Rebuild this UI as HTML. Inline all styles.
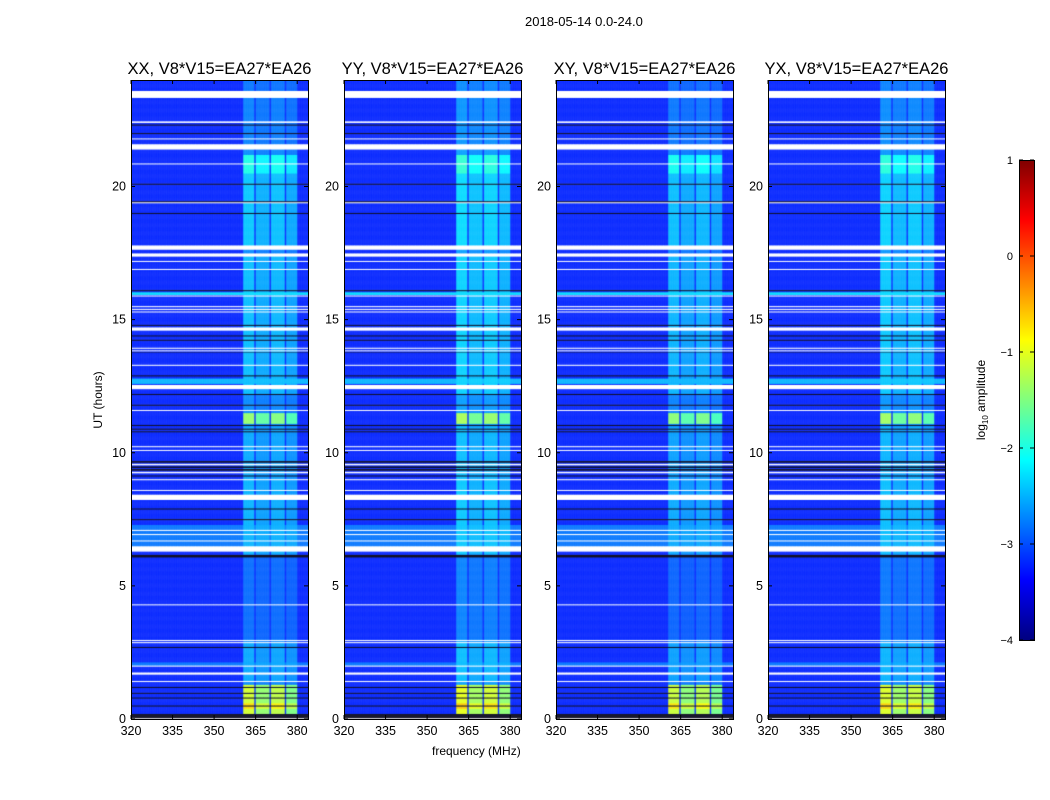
<!DOCTYPE html>
<html><head><meta charset="utf-8">
<style>
body{margin:0;background:#fff;}
#wrap{position:relative;width:1050px;height:800px;background:#fff;font-family:"Liberation Sans",sans-serif;color:#000;overflow:hidden}
.t{position:absolute;white-space:nowrap}
canvas{position:absolute}
</style></head><body>
<div id="wrap">
<div class="t" style="left:525px;top:14px;font-size:13px">2018-05-14 0.0-24.0</div>
<div class="t" style="left:432px;top:744px;font-size:12px">frequency (MHz)</div>
<div class="t" style="left:98px;top:400px;font-size:12px;transform:translate(-50%,-50%) rotate(-90deg);transform-origin:center">UT (hours)</div>
<div class="t" style="left:982px;top:400px;font-size:12px;transform:translate(-50%,-50%) rotate(-90deg)">log<sub style="font-size:8px">10</sub> amplitude</div>
<svg id="ov" width="1050" height="800" style="position:absolute;left:0;top:0"></svg>
</div>
<script>
// ---- data ----
const panelTitles=["XX, V8*V15=EA27*EA26","YY, V8*V15=EA27*EA26","XY, V8*V15=EA27*EA26","YX, V8*V15=EA27*EA26"];
const panelOffset=[0,0.1,-0.05,0.05];
const xTicks=[320,335,350,365,380];
const yTicks=[0,5,10,15,20];
const cbTicks=[1,0,-1,-2,-3,-4];
const bgLevel=-3.2;
const bandsF=[[360.5,364.5],[365,370],[370.5,375.5],[376,380]];
const bandStrength=[1,0.85,0.95,0.8];
// [start hr, end hr, band level]
const bandSegs=[[0,24,-2.7],[23.6,24,-2.8],[21.6,23.35,-2.75],[20.5,21.2,-2.0],[17.8,20.5,-2.4],[12.2,17.4,-2.45],
[11.1,11.5,-1.4],[9.0,11.0,-2.55],[6.2,9.0,-2.5],[3.0,6.1,-2.85],[1.4,2.9,-2.55],[0.2,1.3,-1.1],[0.4,0.6,-0.7]];
// [start, end, background level]
const bgSegs=[[15.95,16.05,-2.3],[12.6,12.8,-2.5],[6.5,7.3,-2.8],[2.0,2.15,-2.8]];
// flagged rows: w = blank (white), k = black
const flagSegs=[[23.35,23.6,'w'],[22.4,22.47,'w'],[22.3,22.35,'k'],[21.98,22.02,'k'],[21.78,21.82,'w'],[21.4,21.6,'w'],[20.84,20.88,'w'],
[20.08,20.12,'k'],[19.38,19.42,'w'],[19.43,19.46,'k'],[18.98,19.02,'k'],[17.65,17.8,'w'],[17.38,17.5,'w'],[17.18,17.22,'w'],[16.88,16.92,'w'],
[16.08,16.12,'k'],[15.88,15.92,'w'],[15.48,15.52,'w'],[15.38,15.42,'w'],[15.28,15.32,'w'],[14.78,14.82,'k'],[14.6,14.72,'w'],[14.38,14.42,'k'],
[14.23,14.27,'k'],[13.93,13.97,'w'],[13.83,13.87,'w'],[13.78,13.81,'k'],[13.28,13.32,'w'],[12.88,12.92,'k'],[12.4,12.56,'w'],[12.18,12.22,'k'],
[11.78,11.82,'k'],[11.58,11.62,'w'],[11.03,11.07,'k'],[10.88,10.92,'k'],[10.78,10.82,'k'],[10.23,10.27,'w'],[10.08,10.12,'w'],
[9.65,9.7,'k'],[9.55,9.6,'w'],[9.45,9.5,'k'],[9.35,9.4,'k'],[9.25,9.3,'w'],[9.12,9.17,'k'],[8.98,9.02,'w'],[8.58,8.62,'w'],[8.25,8.45,'w'],
[7.88,7.92,'k'],[7.48,7.52,'k'],[7.08,7.12,'w'],[6.93,6.97,'w'],[6.68,6.72,'w'],[6.3,6.5,'w'],[6.08,6.18,'k'],[4.28,4.32,'w'],
[2.93,2.98,'w'],[2.86,2.9,'w'],[2.68,2.72,'k'],[1.98,2.02,'w'],[1.68,1.76,'w'],[1.4,1.44,'w'],[1.18,1.22,'k'],[0.96,1.0,'k'],
[0.78,0.82,'k'],[0.48,0.52,'k'],[0.05,0.2,'k'],[0,0.05,'w']];
// ---- render ----
const lefts=[131,344,556,768];const top0=80,H=639,W=177;
const xs=f=>(f-320)*2.77; const ys=h=>H-h*(H/24);
function jet(v){let t=(v+4)/5;t=Math.max(0,Math.min(1,t));
 const c=x=>Math.round(255*Math.max(0,Math.min(1,x)));
 return `rgb(${c(1.5-Math.abs(4*t-3))},${c(1.5-Math.abs(4*t-2))},${c(1.5-Math.abs(4*t-1))})`;}
const NS='http://www.w3.org/2000/svg';const ov=document.getElementById('ov');
function sv(tag,a){const e=document.createElementNS(NS,tag);for(const k in a)e.setAttribute(k,a[k]);ov.appendChild(e);return e;}
const wrap=document.getElementById('wrap');
const dh=0.02,df=0.5;
lefts.forEach((L,p)=>{
 const cv=document.createElement('canvas');cv.width=W;cv.height=H;cv.style.left=L+'px';cv.style.top=top0+'px';
 
 
 wrap.insertBefore(cv,ov);const g=cv.getContext('2d');
 for(let k=0;k<24/dh;k++){
  const h=k*dh;const hm=h+dh/2;let bl=bgLevel,bd=-2.7,fl=null;
  bgSegs.forEach(s=>{if(hm>=s[0]&&hm<s[1])bl=s[2];});
  bandSegs.forEach(s=>{if(hm>=s[0]&&hm<s[1])bd=s[2];});
  flagSegs.forEach(s=>{if(hm>=s[0]&&hm<s[1])fl=s[2];});
  const y0=ys(h+dh),y1=ys(h);
  if(fl){g.fillStyle=fl==='w'?'#fff':'#000018';g.fillRect(0,y0,W,y1-y0+0.3);continue;}
  for(let f=320;f<384;f+=df){
   const fm=f+df/2;let v=bl;
   bandsF.forEach((b,i)=>{if(fm>=b[0]&&fm<b[1])v=Math.max(bl,bl+bandStrength[i]*(bd+panelOffset[p]-bl));});
   g.fillStyle=jet(v);g.fillRect(xs(f),y0,xs(f+df)-xs(f)+0.3,y1-y0+0.3);
  }
 }
 const fr=sv('rect',{x:L+0.5,y:top0+0.5,width:W,height:H,fill:'none',stroke:'#000','stroke-width':1});
 
 
 const tt=sv('text',{x:L+W/2,y:74,'text-anchor':'middle','font-size':16.5,'font-family':'Liberation Sans, sans-serif'});tt.textContent=panelTitles[p];
 
 
 xTicks.forEach(t=>{const x=L+xs(t);
  sv('line',{x1:x,x2:x,y1:top0+H,y2:top0+H-4,stroke:'#000'});sv('line',{x1:x,x2:x,y1:top0,y2:top0+4,stroke:'#000'});
  const e=sv('text',{x:x,y:top0+H+16,'text-anchor':'middle','font-size':12.5,'font-family':'Liberation Sans, sans-serif'});e.textContent=t;
  
  });
 yTicks.forEach(t=>{const y=top0+ys(t);
  sv('line',{x1:L,x2:L+4,y1:y,y2:y,stroke:'#000'});sv('line',{x1:L+W,x2:L+W-4,y1:y,y2:y,stroke:'#000'});
  const e=sv('text',{x:L-5,y:y+4,'text-anchor':'end','font-size':12.5,'font-family':'Liberation Sans, sans-serif'});e.textContent=t;
  
  });
});
// colorbar
const cbX=1019,cbT=160,cbH=480,cbW=15;
for(let i=0;i<cbH;i++){const v=1-5*(i+0.5)/cbH;sv('rect',{x:cbX,y:cbT+i,width:cbW,height:1.2,fill:jet(v)});}
const cbf=sv('rect',{x:cbX+0.5,y:cbT+0.5,width:cbW,height:cbH,fill:'none',stroke:'#000'});


cbTicks.forEach(t=>{const y=cbT+(1-t)*cbH/5;
 sv('line',{x1:cbX,x2:cbX+4,y1:y,y2:y,stroke:'#000'});sv('line',{x1:cbX+cbW,x2:cbX+cbW-4,y1:y,y2:y,stroke:'#000'});
 const e=sv('text',{x:1013,y:y+4,'text-anchor':'end','font-size':11,'font-family':'Liberation Sans, sans-serif'});e.textContent=t<0?'\u2212'+(-t):t;
 
 });
</script>
</body></html>
